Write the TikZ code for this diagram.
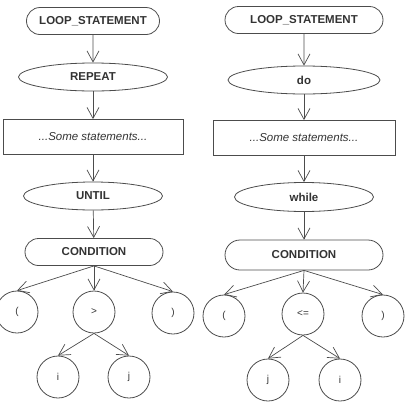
\documentclass[tikz,border=0pt]{standalone}
\usepackage{fontspec}
\setmainfont{Liberation Sans}
\usetikzlibrary{shapes.geometric,shapes.misc,arrows.meta}
\begin{document}
\begin{tikzpicture}[x=1pt,y=-1pt,
 base/.style={draw=black!70, line width=0.8pt, inner sep=0pt, text=black!80},
 term/.style={base, rounded rectangle, minimum width=#1, minimum height=27pt, font=\fontsize{11.5}{13}\selectfont\bfseries},
 ell/.style={base, ellipse, minimum width=#1, minimum height=28pt, font=\fontsize{11.5}{13}\selectfont\bfseries},
 blk/.style={base, rectangle, minimum width=#1, minimum height=35pt, font=\fontsize{11.5}{13}\selectfont\itshape},
 leaf/.style={base, circle, minimum size=42pt, font=\fontsize{10}{12}\selectfont},
 arr/.style={draw=black!70, line width=0.7pt, -{Straight Barb[length=11pt,width=12pt]}}
]
\useasboundingbox (0,0) rectangle (405,413);
% left tree
\node[term=133pt] (l1) at (93,21) {LOOP\_STATEMENT};
\node[ell=149pt] (l2) at (93,77) {REPEAT};
\node[blk=180pt] (l3) at (93,137) {...Some statements...};
\node[ell=139pt] (l4) at (93,196) {UNTIL};
\node[term=138pt] (l5) at (94,252) {CONDITION};
\node[leaf] (lc1) at (17,312) {(};
\node[leaf] (lc2) at (94,312) {>};
\node[leaf] (lc3) at (173,313) {)};
\node[leaf] (lc4) at (58,377) {i};
\node[leaf] (lc5) at (129,377) {j};
\draw[arr] (l1) -- (l2);
\draw[arr] (l2) -- (l3);
\draw[arr] (l3) -- (l4);
\draw[arr] (l4) -- (l5);
\draw[arr] (l5.south) -- (lc1.north);
\draw[arr] (l5.south) -- (lc2.north);
\draw[arr] (l5.south) -- (lc3.north);
\draw[arr] (lc2.south) -- (lc4.north);
\draw[arr] (lc2.south) -- (lc5.north);
% right tree
\node[term=158pt] (r1) at (304,20) {LOOP\_STATEMENT};
\node[ell=152pt] (r2) at (304,80) {do};
\node[blk=182pt] (r3) at (304,138) {...Some statements...};
\node[ell=139pt, minimum height=29pt] (r4) at (304,197) {while};
\node[term=158pt, minimum height=30pt] (r5) at (304,255) {CONDITION};
\node[leaf] (rc1) at (224,316) {(};
\node[leaf] (rc2) at (303,314) {<=};
\node[leaf] (rc3) at (383,316) {)};
\node[leaf] (rc4) at (268,380) {j};
\node[leaf] (rc5) at (340,380) {i};
\draw[arr] (r1) -- (r2);
\draw[arr] (r2) -- (r3);
\draw[arr] (r3) -- (r4);
\draw[arr] (r4) -- (r5);
\draw[arr] (r5.south) -- (rc1.north);
\draw[arr] (r5.south) -- (rc2.north);
\draw[arr] (r5.south) -- (rc3.north);
\draw[arr] (rc2.south) -- (rc4.north);
\draw[arr] (rc2.south) -- (rc5.north);
\end{tikzpicture}
\end{document}
